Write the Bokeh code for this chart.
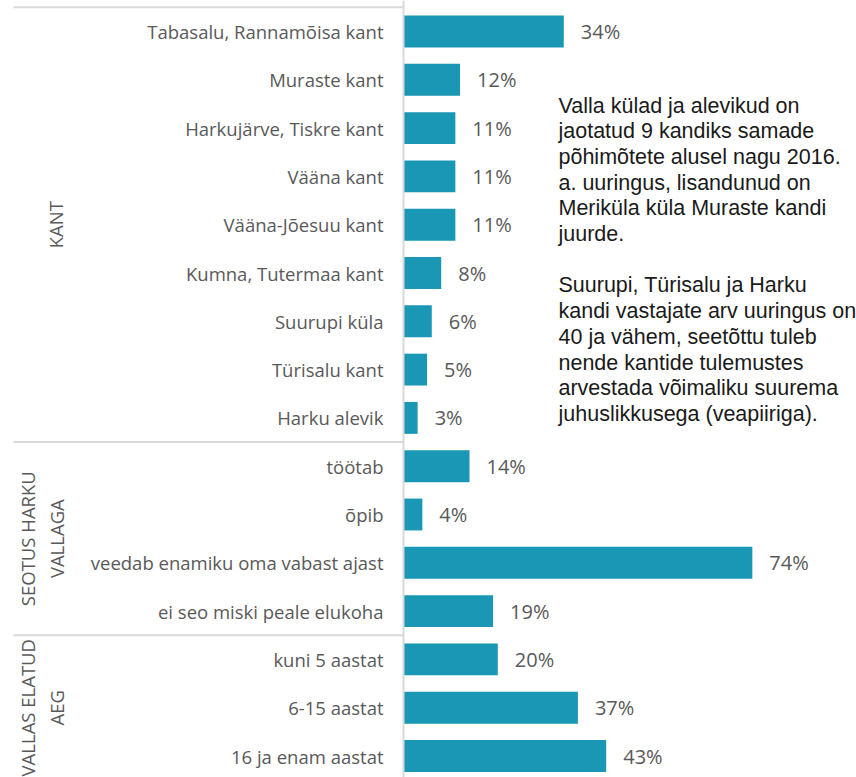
from bokeh.plotting import figure
from bokeh.models import Range1d, Span, ColumnDataSource
from bokeh.core.properties import value
from bokeh.embed import file_html
from bokeh.resources import INLINE
import math

# ---- data ----
group_names = ["KANT", "SEOTUS HARKU\nVALLAGA", "VALLAS ELATUD\nAEG"]
kant_labels = ["Tabasalu, Rannamõisa kant", "Muraste kant", "Harkujärve, Tiskre kant",
               "Vääna kant", "Vääna-Jõesuu kant", "Kumna, Tutermaa kant",
               "Suurupi küla", "Türisalu kant", "Harku alevik"]
kant_values = [34, 12, 11, 11, 11, 8, 6, 5, 3]
seotus_labels = ["töötab", "õpib", "veedab enamiku oma vabast ajast", "ei seo miski peale elukoha"]
seotus_values = [14, 4, 74, 19]
aeg_labels = ["kuni 5 aastat", "6-15 aastat", "16 ja enam aastat"]
aeg_values = [20, 37, 43]
note_lines = ["Valla külad ja alevikud on",
              "jaotatud 9 kandiks samade",
              "põhimõtete alusel nagu 2016.",
              "a. uuringus, lisandunud on",
              "Meriküla küla Muraste kandi",
              "juurde.",
              "",
              "Suurupi, Türisalu ja Harku",
              "kandi vastajate arv uuringus on",
              "40 ja vähem, seetõttu tuleb",
              "nende kantide tulemustes",
              "arvestada võimaliku suurema",
              "juhuslikkusega (veapiiriga)."]

group_labels = [kant_labels, seotus_labels, aeg_labels]
group_values = [kant_values, seotus_values, aeg_values]

labels, values, rows = [], [], []
group_center, group_end = [], []
r = 0
for gl, gv in zip(group_labels, group_values):
    start = r
    for l, v in zip(gl, gv):
        labels.append(l)
        values.append(v)
        rows.append(r)
        r += 1
    group_center.append((start + r - 1) / 2)
    group_end.append(r - 0.5)

W, H = 856, 777
PX = 4.714          # pixels per percent
ZERO = 403          # pixel position of 0%
ROWPX = 48.3        # pixels per row
ROW0 = 31           # pixel position of first row centre

XMIN = -ZERO / PX
XMAX = (W - ZERO) / PX
YTOP = -ROW0 / ROWPX
YBOT = (H - ROW0) / ROWPX

LABEL_FONT = value("Open Sans")
GRAY = "#595959"
BAR = "#1A97B5"
LINE = "#D9D9D9"

p = figure(width=W, height=H, x_range=Range1d(XMIN, XMAX), y_range=Range1d(YBOT, YTOP),
           output_backend="svg", toolbar_location=None,
           x_axis_location=None, y_axis_location=None,
           min_border=0, min_border_left=0, min_border_right=0,
           min_border_top=0, min_border_bottom=0)
p.grid.visible = False
p.outline_line_color = None
p.background_fill_color = "white"

src = ColumnDataSource(dict(y=rows, v=values, lab=labels,
                            vt=[f"{v}%" for v in values]))

p.hbar(y="y", left=0, right="v", height=0.66, source=src,
       fill_color=BAR, line_color=None)

p.text(x=0, y="y", text="lab", source=src, x_offset=-20,
       text_align="right", text_baseline="middle",
       text_font=LABEL_FONT, text_font_size="18.5px", text_color=GRAY)
p.text(x="v", y="y", text="vt", source=src, x_offset=17,
       text_align="left", text_baseline="middle",
       text_font=LABEL_FONT, text_font_size="20px", text_color=GRAY)

# axis line
p.add_layout(Span(location=0, dimension="height", line_color=LINE, line_width=2))

# group separators
sep_y = [-0.5] + group_end[:-1]
x_left = XMIN + 13 / PX
p.segment(x0=[x_left] * len(sep_y), y0=sep_y, x1=[0] * len(sep_y), y1=sep_y,
          line_color=LINE, line_width=2)

# group labels (rotated)
offs = [55 if "\n" not in g else 41.5 for g in group_names]
for g, c, o in zip(group_names, group_center, offs):
    p.text(x=[XMIN], y=[c], text=[g], x_offset=o, angle=math.pi / 2,
           text_align="center", text_baseline="middle", text_line_height=1.15,
           text_font=LABEL_FONT, text_font_size="18.5px", text_color=GRAY)

# note
p.text(x=[XMIN], y=[YTOP], text=["\n".join(note_lines)], x_offset=558, y_offset=93,
       text_align="left", text_baseline="top", text_line_height=1.071,
       text_font=value("Liberation Sans"), text_font_size="21.5px", text_color="#1A1A1A")

open("out.html", "w").write(file_html(p, INLINE))
